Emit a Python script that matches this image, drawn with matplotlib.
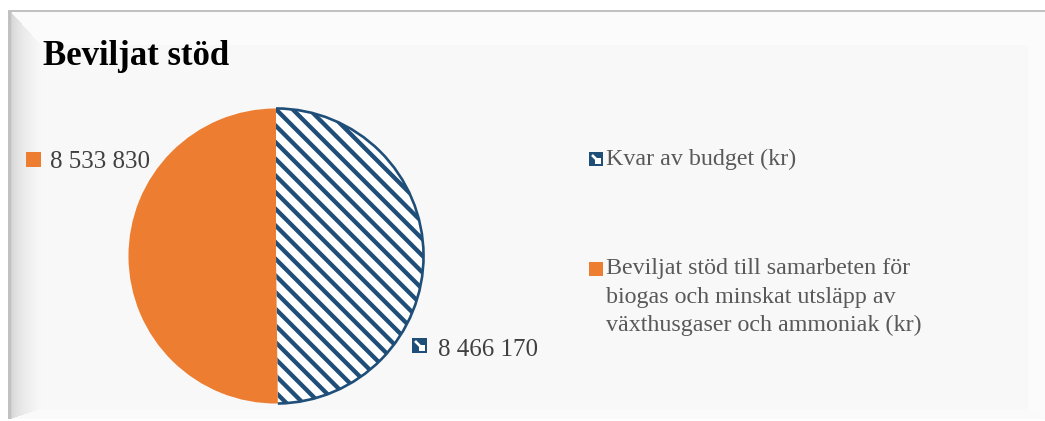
import numpy as np
import matplotlib
matplotlib.use("Agg")
import matplotlib.pyplot as plt
from matplotlib.patches import Rectangle, Arc

plt.rcParams['font.family'] = ['Liberation Serif', 'DejaVu Serif']
plt.rcParams['hatch.linewidth'] = 3.1

# --- data ---
title = "Beviljat stöd"
labels = [
    "Kvar av budget (kr)",
    "Beviljat stöd till samarbeten för\nbiogas och minskat utsläpp av\nväxthusgaser och ammoniak (kr)",
]
values = [8466170, 8533830]

BLUE = "#1F4E79"
ORANGE = "#ED7D31"
W, H, DPI = 1045, 421, 100


def fmt(v):
    return f"{v:,}".replace(",", " ")


# bevelled panel behind the chart (pixel grid)
yy, xx = np.mgrid[0:H, 0:W].astype(float)
img = np.ones((H, W))
inside = (xx >= 11) & (yy >= 12) & (yy <= 418)
d = np.stack([(xx - 11) / 30.0, (yy - 12) / 33.0, (W - xx) / 18.0, (418 - yy) / 10.0])
edge = np.argmin(d, axis=0)
dmin = np.clip(np.min(d, axis=0), 0, None)
shade = np.full((H, W), 0.975)
bev = dmin < 1
left = bev & (edge == 0)
shade[left] = 0.82 + 0.155 * np.sqrt(dmin[left])
shade[bev & (edge == 1)] = 0.988
shade[bev & (edge == 2)] = 0.985
shade[bev & (edge == 3)] = 0.984
img[inside] = shade[inside]
img[(yy >= 10) & (yy < 12) & (xx >= 8)] = 0.76
img[(xx >= 8) & (xx < 11) & (yy >= 10) & (yy <= 418)] = 0.76

fig = plt.figure(figsize=(W / DPI, H / DPI), dpi=DPI)
bg = fig.add_axes([0, 0, 1, 1])
bg.imshow(np.dstack([img] * 3), extent=(0, W, H, 0), aspect="auto", interpolation="bilinear")
bg.set_xlim(0, W)
bg.set_ylim(H, 0)
bg.axis("off")

bg.text(43, 65, title, fontsize=25, fontweight="bold", color="black", va="baseline")

# --- pie ---
cx, cy, r = 276, 256, 149
ax = fig.add_axes([(cx - r) / W, (H - cy - r) / H, 2 * r / W, 2 * r / H])
wedges, _ = ax.pie(values, startangle=90, counterclock=False, radius=1, frame=False)
wedges[0].set(facecolor="white", edgecolor=BLUE, hatch="\\\\", linewidth=0)
wedges[1].set(facecolor=ORANGE, edgecolor=ORANGE, linewidth=0)
w0 = wedges[0]
ax.add_patch(Arc((0, 0), 2 * w0.r, 2 * w0.r, theta1=w0.theta1, theta2=w0.theta2,
                 color=BLUE, lw=1.9))
ax.set_xlim(-1.01, 1.01)
ax.set_ylim(-1.01, 1.01)
ax.axis("off")


def key(x, y, s, which):
    if which == 0:
        bg.add_patch(Rectangle((x, y), s, s, facecolor=BLUE, edgecolor=BLUE, lw=0))
        bg.plot([x + 3, x + s - 3], [y + 3, y + s - 3], color="white", lw=1.9,
                solid_capstyle="butt")
        bg.add_patch(Rectangle((x + s * 0.45, y + s * 0.45), s * 0.4, s * 0.4,
                               facecolor="white", lw=0))
    else:
        bg.add_patch(Rectangle((x, y), s, s, facecolor=ORANGE, lw=0))


# --- data labels ---
bg.text(438, 356, fmt(values[0]), fontsize=18, color="#404040", va="baseline")
key(412, 338, 15, 0)
bg.text(50, 168, fmt(values[1]), fontsize=18, color="#404040", va="baseline")
key(26, 152, 15, 1)

# --- legend ---
legend_y = [165, 274]
for i, (lab, by) in enumerate(zip(labels, legend_y)):
    key(589, by - 13 if i == 0 else by - 12, 14, i)
    for j, line in enumerate(lab.split("\n")):
        bg.text(606, by + j * 28.5, line, fontsize=17.3, color="#595959", va="baseline")

fig.savefig("out.png", dpi=DPI)
